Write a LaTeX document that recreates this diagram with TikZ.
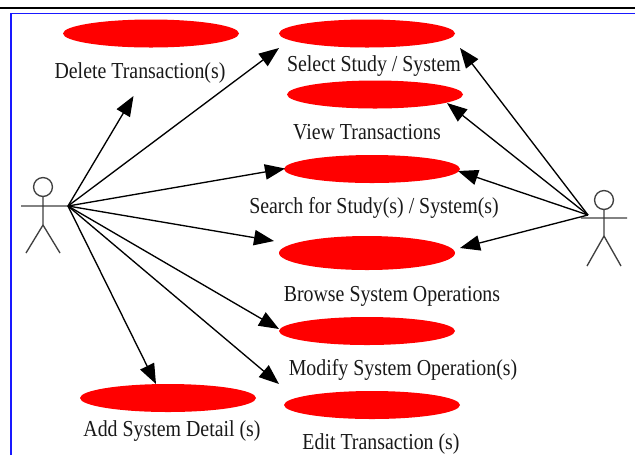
\documentclass[tikz,border=0pt]{standalone}
\usepackage{fontspec}
\setmainfont{Liberation Serif}
\usetikzlibrary{shapes.geometric,arrows.meta}
\newcommand{\tallcase}[1]{\scalebox{1}[1.15]{#1}}
\tikzset{
  usecase/.style={ellipse,fill=red,draw=none,minimum width=132pt,minimum height=21pt,inner sep=0pt},
  usecasetall/.style={usecase,minimum height=25.5pt},
  caselabel/.style={inner sep=0pt,font=\fontsize{14.9pt}{16pt}\selectfont,anchor=base,text=black!90},
  assoc/.style={draw=black,line width=1pt,-{Triangle[length=15pt,width=11.5pt]}},
  actorline/.style={draw=black!75,line width=1pt}
}
\begin{document}
\begin{tikzpicture}[x=0.75pt,y=-0.75pt]
\useasboundingbox (0,0) rectangle (635,455);
\fill[white] (0,0) rectangle (635,455);
\draw[black,line width=2pt] (0,8) -- (635,8);
\draw[blue!90!white,line width=1.3pt] (11,455) -- (11,13.5) -- (635,13.5);
% use cases
\node[usecase] (del) at (151,33.5) {};
\node[usecase] (sel) at (367,33.5) {};
\node[usecase] (view) at (375,94.5) {};
\node[usecase] (sea) at (372,169) {};
\node[usecasetall] (bro) at (367,253) {};
\node[usecase] (mod) at (367,331) {};
\node[usecase] (edi) at (372,405) {};
\node[usecase] (add) at (168,398) {};
% labels
\node[caselabel] (ldel) at (140,78) {\tallcase{Delete Transaction(s)}};
\node[caselabel] (lsel) at (374,71) {\tallcase{Select Study / System}};
\node[caselabel] (lview) at (367,139) {\tallcase{View Transactions}};
\node[caselabel] (lsea) at (374,213) {\tallcase{Search for Study(s) / System(s)}};
\node[caselabel] (lbro) at (392,301) {\tallcase{Browse System Operations}};
\node[caselabel] (lmod) at (403,375) {\tallcase{Modify System Operation(s)}};
\node[caselabel] (ledi) at (381,449) {\tallcase{Edit Transaction (s)}};
\node[caselabel] (ladd) at (172,436) {\tallcase{Add System Detail (s)}};
% left actor
\node[circle,actorline,minimum size=14.2pt,inner sep=0pt] (lhead) at (43,187) {};
\coordinate (lhip) at (43,225);
\coordinate (lhand) at (68,206);
\coordinate (larm) at (21,206);
\coordinate (lfootA) at (26,253);
\coordinate (lfootB) at (60,253);
\draw[actorline] (lhead.south) -- (lhip) (larm) -- (lhand) (lfootA) -- (lhip) -- (lfootB);
% right actor
\node[circle,actorline,minimum size=14.2pt,inner sep=0pt] (rhead) at (604,200) {};
\coordinate (rhip) at (604,236);
\coordinate (rhand) at (588,215);
\coordinate (ra) at (581,218);
\coordinate (rb) at (627,218);
\coordinate (rfootA) at (587,266);
\coordinate (rfootB) at (621,266);
\draw[actorline] (rhead.south) -- (rhip) (ra) -- (rb) (rfootA) -- (rhip) -- (rfootB);
% arrow tips
\coordinate (tdel) at (133.5,96);
\coordinate (tsel) at (279,48);
\coordinate (tsea) at (285,168.5);
\coordinate (tbro) at (274,241);
\coordinate (tmod) at (279,329);
\coordinate (tedi) at (279,384);
\coordinate (tadd) at (156,384);
\coordinate (usel) at (460,48);
\coordinate (uview) at (447,103);
\coordinate (usea) at (458,171);
\coordinate (ubro) at (460,248);
\draw[assoc] (lhand) -- (tdel);
\draw[assoc] (lhand) -- (tsel);
\draw[assoc] (lhand) -- (tsea);
\draw[assoc] (lhand) -- (tbro);
\draw[assoc] (lhand) -- (tmod);
\draw[assoc] (lhand) -- (tedi);
\draw[assoc] (lhand) -- (tadd);
\draw[assoc] (rhand) -- (usel);
\draw[assoc] (rhand) -- (uview);
\draw[assoc] (rhand) -- (usea);
\draw[assoc] (rhand) -- (ubro);
\end{tikzpicture}
\end{document}
